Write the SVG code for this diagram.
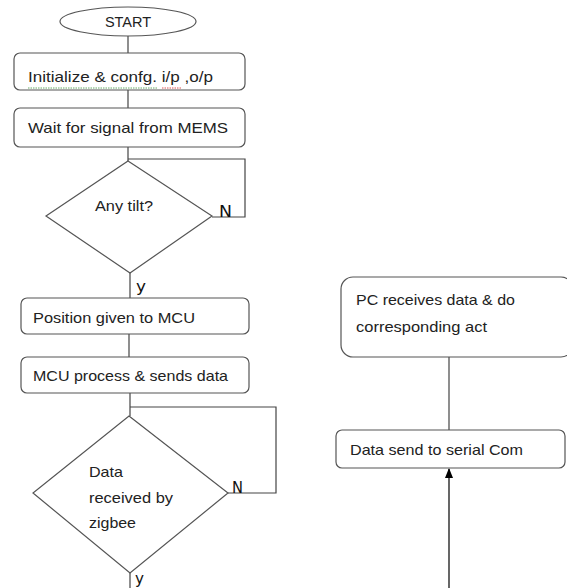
<svg xmlns="http://www.w3.org/2000/svg" width="567" height="588" viewBox="0 0 567 588">
<defs>
<style>
.box{fill:#fff;stroke:#555;stroke-width:1.2}
.ln{fill:none;stroke:#444;stroke-width:1.2}
.t{font-family:"Liberation Sans",Arial,sans-serif;font-size:14.5px;fill:#222}
.lbl{font-family:"DejaVu Sans",sans-serif;font-size:15px;fill:#111}
</style>
<marker id="ah" markerWidth="10" markerHeight="10" refX="9" refY="5" orient="auto" markerUnits="userSpaceOnUse"><path d="M0,1 L10,5 L0,9 z" fill="#000"/></marker>
</defs>
<rect width="567" height="588" fill="#fff"/>
<g id="connectors">
<line class="ln" x1="128" y1="36" x2="128" y2="53"/>
<line class="ln" x1="128" y1="90" x2="128" y2="108"/>
<line class="ln" x1="128" y1="147" x2="128" y2="161"/>
<polyline class="ln" points="128,159 245,159 245,217 212,217"/>
<line class="ln" x1="130" y1="273" x2="130" y2="298"/>
<line class="ln" x1="129" y1="334" x2="129" y2="357"/>
<line class="ln" x1="130" y1="393" x2="130" y2="416"/>
<polyline class="ln" points="130,407 276,407 276,493 228,493"/>
<line class="ln" x1="130" y1="573" x2="130" y2="588"/>
<line class="ln" x1="449" y1="357" x2="449" y2="430"/>
<line x1="449" y1="588" x2="449" y2="469" stroke="#000" stroke-width="1.2" marker-end="url(#ah)"/>
<text class="lbl" x="219" y="217" textLength="13" lengthAdjust="spacingAndGlyphs">N</text>
<text class="lbl" x="136" y="292" textLength="10" lengthAdjust="spacingAndGlyphs">y</text>
<text class="lbl" x="232" y="493" font-size="14" textLength="11" lengthAdjust="spacingAndGlyphs">N</text>
<text class="lbl" x="135" y="584" font-size="13" textLength="9" lengthAdjust="spacingAndGlyphs">y</text>
</g>
<g id="start">
<ellipse class="box" cx="128" cy="21.5" rx="68" ry="14.5"/>
<text class="t" x="128" y="27" text-anchor="middle">START</text>
</g>
<g id="init">
<rect class="box" x="14" y="53" width="231" height="37" rx="6"/>
<text class="t" x="28" y="82" textLength="185" lengthAdjust="spacingAndGlyphs">Initialize &amp; confg. i/p ,o/p</text>
<line x1="28" y1="88" x2="157" y2="88" stroke="#6a6" stroke-width="1" stroke-dasharray="1.5,1"/>
<line x1="162" y1="88" x2="182" y2="88" stroke="#d55" stroke-width="1" stroke-dasharray="1.5,1"/>
</g>
<g id="wait">
<rect class="box" x="14" y="108" width="231" height="39" rx="6"/>
<text class="t" x="28" y="133" textLength="200" lengthAdjust="spacingAndGlyphs">Wait for signal from MEMS</text>
</g>
<g id="tilt">
<polygon class="box" points="128,161 212,216 130,273 46,216"/>
<text class="t" x="124" y="211" text-anchor="middle" textLength="58" lengthAdjust="spacingAndGlyphs">Any tilt?</text>
</g>
<g id="position">
<rect class="box" x="21" y="298" width="228" height="36" rx="6"/>
<text class="t" x="33" y="323" textLength="162" lengthAdjust="spacingAndGlyphs">Position given to MCU</text>
</g>
<g id="mcu">
<rect class="box" x="21" y="357" width="228" height="36" rx="6"/>
<text class="t" x="33" y="381" textLength="195" lengthAdjust="spacingAndGlyphs">MCU process &amp; sends data</text>
</g>
<g id="zigbee">
<polygon class="box" points="129,416 228,493 130,573 33,493"/>
<text class="t" x="89" y="477" textLength="34" lengthAdjust="spacingAndGlyphs">Data</text>
<text class="t" x="89" y="503" textLength="84" lengthAdjust="spacingAndGlyphs">received by</text>
<text class="t" x="89" y="528" textLength="47" lengthAdjust="spacingAndGlyphs">zigbee</text>
</g>
<g id="pc">
<rect class="box" x="341" y="277" width="232" height="80" rx="12"/>
<text class="t" x="356" y="305" textLength="159" lengthAdjust="spacingAndGlyphs">PC receives data &amp; do</text>
<text class="t" x="356" y="332" textLength="131" lengthAdjust="spacingAndGlyphs">corresponding act</text>
</g>
<g id="serial">
<rect class="box" x="336" y="430" width="229" height="38" rx="6"/>
<text class="t" x="350" y="455" textLength="173" lengthAdjust="spacingAndGlyphs">Data send to serial Com</text>
</g>
</svg>
